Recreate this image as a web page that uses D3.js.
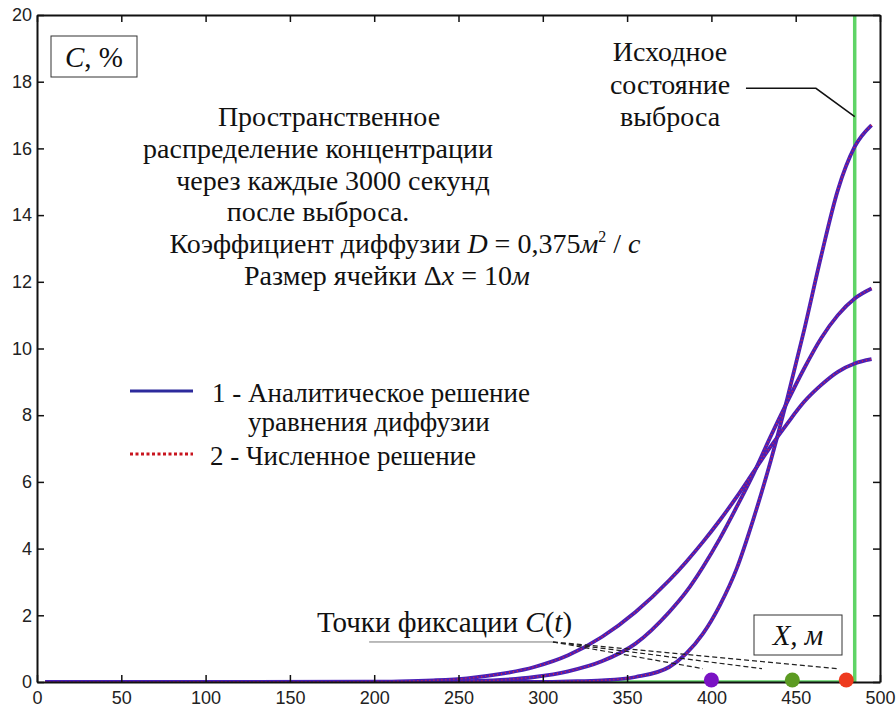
<!DOCTYPE html>
<html>
<head>
<meta charset="utf-8">
<script src="https://cdnjs.cloudflare.com/ajax/libs/d3/7.8.5/d3.min.js"></script>
<style>
  body { margin: 0; background: #fff; }
  .serif { font-family: 'Liberation Serif', 'Times New Roman', serif; fill: #111; }
  .axis text { font-family: 'Liberation Sans', Arial, sans-serif; font-size: 18px; fill: #222; }
  .axis path, .axis line { stroke: #111; }
  .axis path { stroke-width: 2; }
  .axis line { stroke-width: 1.5; }
  .analytic { fill: none; stroke: #4a1fb5; stroke-width: 3.8; }
  .numeric { fill: none; stroke: #e0203a; stroke-width: 1.6; stroke-dasharray: 1 3; }
  .initial { fill: none; stroke: #5fd466; stroke-width: 3.5; }
</style>
</head>
<body>
<div class="chart-container"></div>
<script>
var margin = {top: 15, right: 16, bottom: 28, left: 37};
var width = 896 - margin.left - margin.right;
var height = 710 - margin.top - margin.bottom;

// distance along the channel, m
var distance = [5, 195, 215, 235, 255, 275, 295, 315, 335, 355, 375, 385, 395, 405, 415, 425, 435, 445, 455, 465, 475, 485, 495];
// concentration, % - after 3000, 6000 and 9000 s
var conc3000 = [0, 0, 0, 0, 0, 0, 0, 0.02, 0.05, 0.15, 0.45, 0.85, 1.45, 2.3, 3.4, 4.9, 6.6, 8.5, 10.55, 12.75, 14.75, 16.05, 16.7];
var conc6000 = [0, 0, 0, 0.01, 0.02, 0.06, 0.15, 0.32, 0.62, 1.15, 2.1, 2.7, 3.45, 4.3, 5.25, 6.25, 7.35, 8.4, 9.4, 10.3, 11.0, 11.5, 11.8];
var conc9000 = [0, 0.01, 0.02, 0.05, 0.11, 0.24, 0.45, 0.8, 1.35, 2.1, 3.05, 3.6, 4.2, 4.85, 5.55, 6.3, 7.05, 7.75, 8.4, 8.9, 9.3, 9.55, 9.68];

// initial state of the release
var initialX = [5, 485, 485];
var initialC = [0, 0, 30];

// fixation points C(t)
var fixPoints = [400, 448, 480];
var fixColors = ['#7a12c4', '#5c9b22', '#ee3a1e'];

var xTicks = [0, 50, 100, 150, 200, 250, 300, 350, 400, 450, 500];
var yTicks = [0, 2, 4, 6, 8, 10, 12, 14, 16, 18, 20];

var titleLines = ['Пространственное', 'распределение концентрации', 'через каждые 3000 секунд', 'после выброса.'];

var x = d3.scaleLinear()
  .domain([0, 500])
  .range([margin.left, margin.left + width]);

var y = d3.scaleLinear()
  .domain([0, 20])
  .range([margin.top + height, margin.top]);

var svg = d3.select('.chart-container').append('svg')
  .attr('width', 896)
  .attr('height', 710);

svg.append('defs').append('clipPath')
  .attr('id', 'plot-clip')
  .append('rect')
  .attr('x', margin.left)
  .attr('y', margin.top)
  .attr('width', width)
  .attr('height', height);

var line = d3.line()
  .curve(d3.curveMonotoneX)
  .x(d => x(d[0]))
  .y(d => y(d[1]));

var plot = svg.append('g').attr('clip-path', 'url(#plot-clip)');

// initial state (green)
plot.append('path')
  .datum(d3.zip(initialX, initialC))
  .attr('class', 'initial')
  .attr('d', d3.line().x(d => x(d[0])).y(d => y(d[1])));

[conc3000, conc6000, conc9000].forEach(series => {
  var pts = d3.zip(distance, series);
  plot.append('path')
    .datum(pts)
    .attr('class', 'analytic')
    .attr('d', line);
  plot.append('path')
    .datum(pts)
    .attr('class', 'numeric')
    .attr('d', line);
});

/*
 * Axes - box with inward ticks
 */
svg.append('g')
  .attr('class', 'axis')
  .attr('transform', `translate(0, ${margin.top + height})`)
  .call(d3.axisBottom(x).tickValues(xTicks).tickSize(-7).tickSizeOuter(0).tickPadding(9));

svg.append('g')
  .attr('class', 'axis')
  .attr('transform', `translate(0, ${margin.top})`)
  .call(d3.axisTop(x).tickValues(xTicks).tickSize(-7).tickSizeOuter(0).tickFormat(''));

svg.append('g')
  .attr('class', 'axis')
  .attr('transform', `translate(${margin.left}, 0)`)
  .call(d3.axisLeft(y).tickValues(yTicks).tickSize(-7).tickSizeOuter(0).tickPadding(5));

svg.append('g')
  .attr('class', 'axis')
  .attr('transform', `translate(${margin.left + width}, 0)`)
  .call(d3.axisRight(y).tickValues(yTicks).tickSize(-7).tickSizeOuter(0).tickFormat(''));

/*
 * Fixation points and their leader
 */
svg.append('path')
  .attr('d', `M${x(197)},${y(1.2)}H${x(306)}`)
  .attr('stroke', '#777')
  .attr('stroke-width', 1)
  .attr('fill', 'none');

svg.selectAll('.fix-leader')
  .data([395, 430, 475])
  .enter().append('path')
  .attr('class', 'fix-leader')
  .attr('d', d => `M${x(306)},${y(1.2)}L${x(d)},${y(0.4)}`)
  .attr('stroke', '#222')
  .attr('stroke-width', 1.2)
  .attr('stroke-dasharray', '5 3')
  .attr('fill', 'none');

svg.selectAll('.fix-point')
  .data(fixPoints)
  .enter().append('circle')
  .attr('class', 'fix-point')
  .attr('cx', d => x(d))
  .attr('cy', y(0) - 2)
  .attr('r', 7.5)
  .attr('fill', (d, i) => fixColors[i]);

svg.append('text')
  .attr('class', 'serif')
  .attr('x', 317)
  .attr('y', 632)
  .style('font-size', '29px')
  .html('Точки фиксации <tspan font-style="italic">C</tspan>(<tspan font-style="italic">t</tspan>)');

/*
 * Boxed axis labels
 */
function boxLabel(bx, by, bw, bh, html) {
  var g = svg.append('g');
  g.append('rect')
    .attr('x', bx).attr('y', by)
    .attr('width', bw).attr('height', bh)
    .attr('fill', '#fff')
    .attr('stroke', '#333')
    .attr('stroke-width', 1);
  g.append('text')
    .attr('class', 'serif')
    .attr('x', bx + bw / 2)
    .attr('y', by + bh / 2 + 10)
    .attr('text-anchor', 'middle')
    .style('font-size', '29px')
    .html(html);
  return g;
}
boxLabel(51, 36, 86, 41, '<tspan font-style="italic">C</tspan>, %');
boxLabel(754, 615, 88, 40, '<tspan font-style="italic">X, м</tspan>');

/*
 * Description
 */
var desc = svg.append('g').attr('class', 'serif').style('font-size', '28px');
desc.selectAll('.title-line')
  .data(titleLines)
  .enter().append('text')
  .attr('class', 'title-line')
  .attr('x', (d, i) => [329, 318, 333, 318][i])
  .attr('y', (d, i) => 126 + i * 31.75)
  .attr('text-anchor', 'middle')
  .text(d => d);

desc.append('text')
  .attr('x', 405)
  .attr('y', 253)
  .attr('text-anchor', 'middle')
  .html('Коэффициент диффузии <tspan font-style="italic">D</tspan> = 0,375<tspan font-style="italic">м</tspan><tspan dy="-11" font-size="16px">2</tspan><tspan dy="11"> / </tspan><tspan font-style="italic">с</tspan>');

desc.append('text')
  .attr('x', 387)
  .attr('y', 285)
  .attr('text-anchor', 'middle')
  .html('Размер ячейки Δ<tspan font-style="italic">x</tspan> = 10<tspan font-style="italic">м</tspan>');

// release annotation
var release = svg.append('g').attr('class', 'serif').style('font-size', '28px');
['Исходное', 'состояние', 'выброса'].forEach((t, i) => {
  release.append('text')
    .attr('x', 670)
    .attr('y', 61 + i * 32.5)
    .attr('text-anchor', 'middle')
    .text(t);
});
svg.append('path')
  .attr('d', `M${x(420.5)},${y(17.8)}L${x(462)},${y(17.8)}L${x(485)},${y(16.95)}`)
  .attr('stroke', '#111')
  .attr('stroke-width', 1.5)
  .attr('fill', 'none');

/*
 * Legend
 */
function legendEntry(host, ly, cls, color, lines) {
  var entry = host.append('g');
  entry.append('path')
    .attr('d', `M130,${ly}H193`)
    .attr('stroke', color)
    .attr('stroke-width', 3)
    .attr('stroke-dasharray', cls === 'numeric' ? '3 2.5' : null)
    .attr('fill', 'none');
  lines.forEach((t, i) => {
    entry.append('text')
      .attr('class', 'serif')
      .attr('x', t.x)
      .attr('y', ly + 11 + i * 28.5)
      .style('font-size', '27px')
      .text(t.text);
  });
  return entry;
}
var legend = svg.append('g').attr('class', 'legend');
legendEntry(legend, 391, 'analytic', '#2d2a9c', [
  {x: 212, text: '1 - Аналитическое решение'},
  {x: 248, text: 'уравнения диффузии'}
]);
legendEntry(legend, 454, 'numeric', '#c8141e', [
  {x: 210, text: '2 - Численное решение'}
]);
</script>
</body>
</html>
